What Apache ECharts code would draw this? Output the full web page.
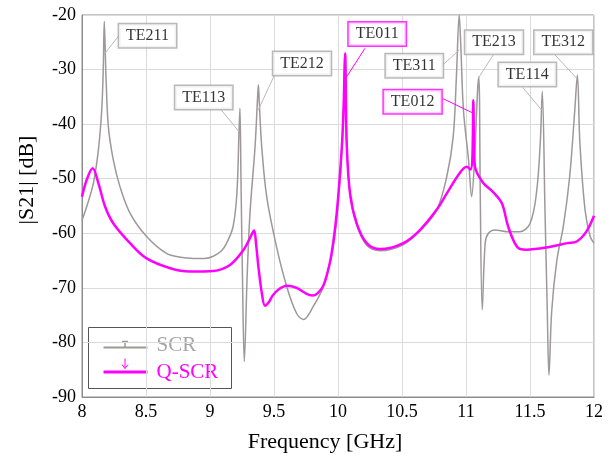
<!DOCTYPE html>
<html>
<head>
<meta charset="utf-8">
<script src="https://cdn.jsdelivr.net/npm/echarts@6/dist/echarts.min.js"></script>
<style>
  html, body { margin: 0; padding: 0; background: #fff; }
  #chart { width: 616px; height: 465px; }
</style>
</head>
<body>
<div id="chart"></div>
<script>
// SCR curve, [frequency GHz, |S21| dB]
var scrData = [
  [8.00, -57.6], [8.037, -55.1], [8.089, -50.8], [8.128, -44.7], [8.154, -37.4],
  [8.166, -30], [8.174, -21.2], [8.181, -26], [8.1875, -31.3], [8.206, -40.5],
  [8.245, -46.6], [8.297, -51.5], [8.375, -56.3], [8.505, -60.6], [8.66, -63.7],
  [8.77, -64.4], [8.87, -64.6], [8.96, -64.6], [9.026, -64.2], [9.09, -63.2], [9.13, -61.8],
  [9.18, -58.8], [9.21, -52.7],
  [9.227, -41.1], [9.234, -37.1], [9.242, -50], [9.255, -70], [9.268, -83.5],
  [9.29, -68], [9.3125, -56.3], [9.352, -44.1], [9.372, -35], [9.378, -32.8],
  [9.385, -36], [9.404, -44.1], [9.443, -53.3], [9.52, -62.5], [9.6, -69.8],
  [9.677, -74.7], [9.73, -75.8], [9.807, -73.4], [9.885, -69.8], [9.963, -62.5],
  [10.016, -50.2], [10.04, -40], [10.052, -30], [10.056, -27.5], [10.062, -33],
  [10.068, -43.5], [10.094, -52.9], [10.146, -58.5], [10.224, -62.2], [10.33, -63.2],
  [10.51, -62.1], [10.64, -59.6], [10.77, -55.8], [10.85, -49.6], [10.9, -42.3],
  [10.925, -31.3], [10.947, -20], [10.96, -26], [10.98, -37.4], [11.02, -46.6],
  [11.044, -53.3], [11.07, -44.7], [11.09, -34], [11.10, -31.3], [11.106, -36],
  [11.11, -49.6], [11.127, -74], [11.15, -61.8], [11.175, -60.0], [11.227, -59.4],
  [11.32, -59.7], [11.42, -59.7], [11.5, -58.2], [11.55, -52.7], [11.58, -43.5],
  [11.596, -34.0], [11.617, -55.7], [11.635, -74.1], [11.648, -86], [11.67, -74.1],
  [11.71, -64.9], [11.76, -58.8], [11.81, -49.6], [11.85, -37.4], [11.87, -31.0],
  [11.89, -43.5], [11.93, -55.7], [11.97, -60.6], [12.0, -61.8]
];

// Q-SCR curve
var qscrData = [
  [8.0, -53.3], [8.037, -50.2], [8.083, -48.1], [8.128, -50.8], [8.18, -55.1],
  [8.245, -58.2], [8.375, -61.8], [8.505, -64.6], [8.69, -66.4], [8.84, -67.0],
  [9.026, -66.9], [9.156, -65.8], [9.26, -63.1], [9.31, -61], [9.344, -59.5],
  [9.36, -62], [9.378, -66.1], [9.405, -71], [9.43, -73.3], [9.46, -72.6],
  [9.49, -71.4], [9.54, -70.2], [9.6, -69.6], [9.677, -70.0], [9.755, -71.1],
  [9.80, -71.4], [9.84, -71.0], [9.885, -69.6], [9.92, -67], [9.95, -63.7],
  [9.99, -56.3], [10.03, -44.1], [10.045, -36], [10.052, -29], [10.056, -27],
  [10.06, -32], [10.068, -43.5], [10.094, -52.7], [10.146, -58.2], [10.224, -61.8],
  [10.33, -62.9], [10.51, -61.8], [10.64, -59.4], [10.77, -55.7], [10.85, -52.7],
  [10.95, -49.0], [11.005, -47.8], [11.036, -48.3], [11.05, -46], [11.057, -35.6],
  [11.063, -44], [11.07, -47.8], [11.135, -50.8], [11.21, -52.4], [11.28, -54.5],
  [11.33, -58.8], [11.40, -62.5], [11.47, -63.0], [11.63, -62.6], [11.79, -61.8],
  [11.865, -61.5], [11.94, -59.7], [12.0, -56.8]
];

// mode annotations: name, box centre, leader start, leader end (peak)
var annNames  = ['TE211', 'TE113', 'TE212', 'TE011', 'TE311', 'TE012', 'TE213', 'TE114', 'TE312'];
var annSeries = ['SCR', 'SCR', 'SCR', 'Q-SCR', 'SCR', 'Q-SCR', 'SCR', 'SCR', 'SCR'];
var annBox = [[8.512, -23.8], [8.951, -35.1], [9.719, -28.9], [10.306, -23.5], [10.596, -29.3],
              [10.583, -35.9], [11.219, -25.0], [11.479, -30.9], [11.76, -25.0]];
var annFrom = [[8.291, -23.7], [9.078, -37.1], [9.5, -31.2], [10.211, -26.1], [10.817, -29.2],
               [10.818, -35.3], [11.213, -27.3], [11.443, -33.3], [11.695, -27.3]];
var annTo = [[8.18, -27.0], [9.227, -41.4], [9.377, -37.4], [10.06, -31.6], [10.948, -26.4],
             [11.057, -38.0], [11.096, -31.6], [11.591, -37.4], [11.865, -31.6]];

var xTicks = [8, 8.5, 9, 9.5, 10, 10.5, 11, 11.5, 12];

var GRAY = '#9e9898';
var MAGENTA = '#ff00ff';
var FONT = 'Liberation Serif';

var chart = echarts.init(document.getElementById('chart'));

var boxItems = annNames.map(function (n, i) {
  var col = annSeries[i] === 'SCR' ? '#a8a8a8' : MAGENTA;
  return { name: n, value: annBox[i], label: { borderColor: col } };
});
var leaderItems = annNames.map(function (n, i) {
  var col = annSeries[i] === 'SCR' ? '#bbbbbb' : MAGENTA;
  return { coords: [annFrom[i], annTo[i]], lineStyle: { color: col } };
});

var option = {
  animation: false,
  backgroundColor: '#fff',
  grid: { left: 82, right: 22, top: 15, bottom: 68, show: true, borderColor: '#8c8c8c', borderWidth: 1 },
  xAxis: {
    type: 'value', min: 8, max: 12, interval: 0.5,
    name: 'Frequency [GHz]', nameLocation: 'middle', nameGap: 34,
    nameTextStyle: { fontFamily: FONT, fontSize: 22, color: '#000', padding: [0, 26, 0, 0] },
    axisLine: { lineStyle: { color: '#8c8c8c' } },
    axisTick: { show: false },
    axisLabel: {
      fontFamily: FONT, fontSize: 18, color: '#000', margin: 6,
      formatter: function (v) { return xTicks.indexOf(v) >= 0 ? String(v) : ''; }
    },
    splitLine: { show: true, lineStyle: { color: '#dadada' } }
  },
  yAxis: {
    type: 'value', min: -90, max: -20, interval: 10,
    name: '|S21| [dB]', nameLocation: 'middle', nameGap: 44,
    nameTextStyle: { fontFamily: FONT, fontSize: 22, color: '#000', padding: [0, 0, 0, 52] },
    axisLine: { show: true, lineStyle: { color: '#8c8c8c' } },
    axisTick: { show: false },
    axisLabel: { fontFamily: FONT, fontSize: 18, color: '#000', margin: 6 },
    splitLine: { show: true, lineStyle: { color: '#dadada' } }
  },
  series: [
    {
      name: 'SCR', type: 'line', data: scrData, showSymbol: false, z: 2,
      smooth: 0.35,
      lineStyle: { color: GRAY, width: 1.5 }, clip: true
    },
    {
      name: 'Q-SCR', type: 'line', data: qscrData, showSymbol: false, z: 3,
      smooth: 0.35,
      lineStyle: { color: MAGENTA, width: 2.5 }, clip: true
    },
    {
      type: 'lines', coordinateSystem: 'cartesian2d', z: 5,
      lineStyle: { width: 1, opacity: 1 },
      data: leaderItems
    },
    {
      type: 'scatter', z: 10, symbolSize: 1, itemStyle: { color: 'rgba(0,0,0,0)' },
      label: {
        show: true, position: 'inside', formatter: '{b}',
        fontFamily: FONT, fontSize: 16, color: '#000',
        backgroundColor: '#fff', borderWidth: 1.5, padding: [4, 7, 3, 7]
      },
      labelLayout: { hideOverlap: false },
      data: boxItems
    }
  ],
  graphic: [
    {
      type: 'group', left: 88, top: 327, z: 100,
      children: [
        { type: 'rect', shape: { x: 0, y: 0, width: 143, height: 61 },
          style: { fill: '#fff', stroke: '#555', lineWidth: 1 } },
        { type: 'line', shape: { x1: 15, y1: 20, x2: 59, y2: 20 }, style: { stroke: GRAY, lineWidth: 2 } },
        { type: 'line', shape: { x1: 36.5, y1: 14, x2: 36.5, y2: 20 }, style: { stroke: GRAY, lineWidth: 1.5 } },
        { type: 'line', shape: { x1: 33.5, y1: 14, x2: 39.5, y2: 14 }, style: { stroke: GRAY, lineWidth: 1.5 } },
        { type: 'text', x: 68, y: 18, style: { text: 'SCR', fill: '#a5a5a5', font: '21px "Liberation Serif"', textVerticalAlign: 'middle' } },
        { type: 'line', shape: { x1: 15, y1: 44.5, x2: 59, y2: 44.5 }, style: { stroke: MAGENTA, lineWidth: 3 } },
        { type: 'line', shape: { x1: 36.5, y1: 31, x2: 36.5, y2: 41 }, style: { stroke: MAGENTA, lineWidth: 1 } },
        { type: 'polyline', shape: { points: [[33.5, 37], [36.5, 41], [39.5, 37]] }, style: { stroke: MAGENTA, lineWidth: 1, fill: null } },
        { type: 'text', x: 68, y: 45, style: { text: 'Q-SCR', fill: MAGENTA, font: '21px "Liberation Serif"', textVerticalAlign: 'middle' } }
      ]
    }
  ]
};

chart.setOption(option);
</script>
</body>
</html>
